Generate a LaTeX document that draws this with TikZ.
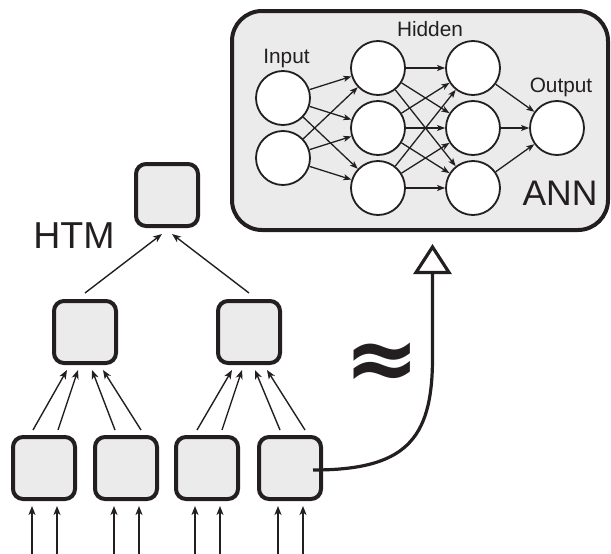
\documentclass[tikz,border=0pt]{standalone}
\usepackage{fontspec}
\setmainfont{Liberation Sans}
\newfontfamily\symfont{DejaVu Sans}
\usetikzlibrary{arrows.meta}
\definecolor{ink}{HTML}{231F20}
\definecolor{boxfill}{HTML}{EBEBEB}
\tikzset{
  htmbox/.style={draw=ink, line width=4pt, fill=boxfill, rounded corners=10pt, minimum size=62pt, inner sep=0pt},
  neuron/.style={circle, draw=ink, line width=1.8pt, fill=white, minimum size=54pt, inner sep=0pt},
  annbox/.style={draw=ink, line width=4pt, fill=boxfill, rounded corners=30pt, minimum width=376pt, minimum height=219pt, inner sep=0pt},
  uparrow/.style={draw=ink, line width=1.4pt, -{Stealth[length=9pt,width=7pt,inset=2.5pt]}},
  annedge/.style={draw=ink, line width=1.3pt, -{Stealth[length=8pt,width=6pt,inset=2pt]}},
  lbl/.style={text=ink, anchor=base, inner sep=0pt, font=\fontsize{20.8pt}{22pt}\selectfont},
  curvy/.style={draw=ink, line width=3.2pt, -{Triangle[open,length=30pt,width=38pt]}}
}
\begin{document}
\begin{tikzpicture}[x=1pt,y=-1pt]
\useasboundingbox (0,0) rectangle (611,554);
% ANN box
\node[annbox] (ann) at (420,120.5) {};
\node[neuron] (i1) at (283,98) {};
\node[neuron] (i2) at (283,158) {};
\node[neuron] (h1) at (378,68) {};
\node[neuron] (h2) at (378,128) {};
\node[neuron] (h3) at (378,188) {};
\node[neuron] (g1) at (473,68) {};
\node[neuron] (g2) at (473,128) {};
\node[neuron] (g3) at (473,188) {};
\node[neuron] (o1) at (557,128) {};
\foreach \a in {i1,i2}{\foreach \b in {h1,h2,h3}{\draw[annedge] (\a) -- (\b);}}
\foreach \a in {h1,h2,h3}{\foreach \b in {g1,g2,g3}{\draw[annedge] (\a) -- (\b);}}
\foreach \a in {g1,g2,g3}{\draw[annedge] (\a) -- (o1);}
\node[lbl] (tin) at (286.5,63) {Input};
\node[lbl] (thid) at (430,36) {Hidden};
\node[lbl] (tout) at (561,92.5) {Output};
\node[lbl, font=\fontsize{35.5pt}{37pt}\selectfont] (tann) at (560,205) {ANN};
% HTM
\node[htmbox] (top) at (167,195) {};
\node[htmbox] (m1) at (85,332) {};
\node[htmbox] (m2) at (249,332) {};
\node[htmbox] (b1) at (44,468) {};
\node[htmbox] (b2) at (126,468) {};
\node[htmbox] (b3) at (207,468) {};
\node[htmbox] (b4) at (290,468) {};
\node[lbl, font=\fontsize{37.5pt}{39pt}\selectfont] (thtm) at (74,248) {HTM};
\draw[uparrow] ([yshift=6pt]m1.north) -- ([xshift=-5pt,yshift=-6pt]top.south);
\draw[uparrow] ([yshift=6pt]m2.north) -- ([xshift=5pt,yshift=-6pt]top.south);
\draw[uparrow] ([xshift=-11pt,yshift=5pt]b1.north) -- ([xshift=-18pt,yshift=-5pt]m1.south);
\draw[uparrow] ([xshift=14pt,yshift=5pt]b1.north) -- ([xshift=-7pt,yshift=-5pt]m1.south);
\draw[uparrow] ([xshift=-11pt,yshift=5pt]b2.north) -- ([xshift=7pt,yshift=-5pt]m1.south);
\draw[uparrow] ([xshift=15pt,yshift=5pt]b2.north) -- ([xshift=18pt,yshift=-5pt]m1.south);
\draw[uparrow] ([xshift=-10pt,yshift=5pt]b3.north) -- ([xshift=-17pt,yshift=-5pt]m2.south);
\draw[uparrow] ([xshift=15pt,yshift=5pt]b3.north) -- ([xshift=-7pt,yshift=-5pt]m2.south);
\draw[uparrow] ([xshift=-10pt,yshift=5pt]b4.north) -- ([xshift=6pt,yshift=-5pt]m2.south);
\draw[uparrow] ([xshift=15pt,yshift=5pt]b4.north) -- ([xshift=18pt,yshift=-5pt]m2.south);
% inputs
\foreach \n/\x in {b1/44,b2/126,b3/207,b4/290}{
  \coordinate (\n l) at (\x-12,556);
  \coordinate (\n r) at (\x+13,556);
  \draw[uparrow] (\n l) -- ([xshift=-12pt,yshift=-5pt]\n.south);
  \draw[uparrow] (\n r) -- ([xshift=13pt,yshift=-5pt]\n.south);
}
% approximation arrow
\coordinate (annin) at (432.5,244);
\draw[curvy] ([xshift=-10pt,yshift=-2pt]b4.east) .. controls (405,470) and (432,440) .. (432.5,360) -- (annin);
\node[text=ink, inner sep=0pt, font=\symfont\bfseries\fontsize{90pt}{90pt}\selectfont] (approx) at (382,366) {≈};
\end{tikzpicture}
\end{document}
